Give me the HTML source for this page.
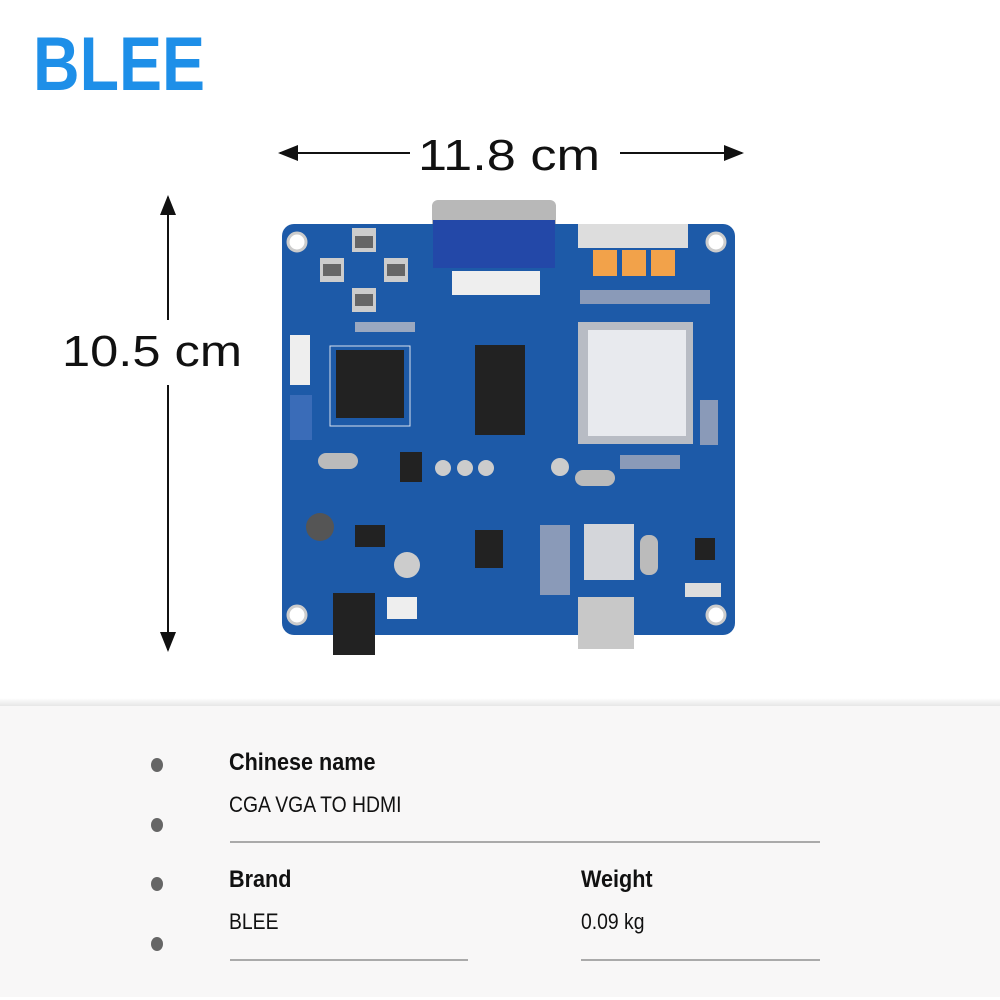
<!DOCTYPE html>
<html><head><meta charset="utf-8"><style>
body{margin:0;width:1000px;height:1000px;background:#fff;position:relative;overflow:hidden;font-family:"Liberation Sans",sans-serif}
.abs{position:absolute}
.bul{position:absolute;left:151px;width:12px;height:14px;border-radius:50%;background:#666}
.hd{position:absolute;font-weight:bold;font-size:24px;color:#111;transform:scaleX(0.9);transform-origin:left}
.vl{position:absolute;font-size:22px;color:#111;transform:scaleX(0.88);transform-origin:left}
.ln{position:absolute;height:2px;background:#aaa}
</style></head><body>
<svg class="abs" style="left:0;top:0" width="1000" height="700">
<defs><marker id="a" markerWidth="10" markerHeight="8" refX="9" refY="4" orient="auto"><path d="M0,0L10,4L0,8z" fill="#111"/></marker></defs>
<text x="33" y="90" font-family="Liberation Sans" font-weight="bold" font-size="76" fill="#1e8fe8" textLength="172" lengthAdjust="spacingAndGlyphs">BLEE</text>
<line x1="410" y1="153" x2="280" y2="153" stroke="#111" stroke-width="2" marker-end="url(#a)"/>
<line x1="620" y1="153" x2="742" y2="153" stroke="#111" stroke-width="2" marker-end="url(#a)"/>
<text x="418" y="170" font-family="Liberation Sans" font-size="44" fill="#111" textLength="182" lengthAdjust="spacingAndGlyphs">11.8 cm</text>
<line x1="168" y1="320" x2="168" y2="197" stroke="#111" stroke-width="2" marker-end="url(#a)"/>
<line x1="168" y1="385" x2="168" y2="650" stroke="#111" stroke-width="2" marker-end="url(#a)"/>
<text x="62" y="366" font-family="Liberation Sans" font-size="44" fill="#111" textLength="180" lengthAdjust="spacingAndGlyphs">10.5 cm</text>
<rect x="432" y="200" width="124" height="30" rx="6" fill="#b8b8b8"/>
<rect x="282" y="224" width="453" height="411" rx="12" fill="#1d5aa8"/>
<rect x="433" y="220" width="122" height="48" fill="#2348a8"/>
<circle cx="297" cy="242" r="9" fill="#fff" stroke="#ccc" stroke-width="3"/>
<circle cx="716" cy="242" r="9" fill="#fff" stroke="#ccc" stroke-width="3"/>
<circle cx="297" cy="615" r="9" fill="#fff" stroke="#ccc" stroke-width="3"/>
<circle cx="716" cy="615" r="9" fill="#fff" stroke="#ccc" stroke-width="3"/>
<rect x="452" y="271" width="88" height="24" fill="#eee"/>
<rect x="578" y="224" width="110" height="24" fill="#ddd"/>
<rect x="593" y="250" width="24" height="26" fill="#f2a24a"/><rect x="622" y="250" width="24" height="26" fill="#f2a24a"/><rect x="651" y="250" width="24" height="26" fill="#f2a24a"/>
<rect x="352" y="228" width="24" height="24" fill="#ccc"/><rect x="320" y="258" width="24" height="24" fill="#ccc"/><rect x="384" y="258" width="24" height="24" fill="#ccc"/><rect x="352" y="288" width="24" height="24" fill="#ccc"/>
<rect x="355" y="236" width="18" height="12" fill="#222" opacity=".6"/><rect x="323" y="264" width="18" height="12" fill="#222" opacity=".6"/><rect x="387" y="264" width="18" height="12" fill="#222" opacity=".6"/><rect x="355" y="294" width="18" height="12" fill="#222" opacity=".6"/>
<rect x="580" y="290" width="130" height="14" fill="#8a9ab8"/>
<rect x="355" y="322" width="60" height="10" fill="#9aa8c0"/>
<rect x="330" y="346" width="80" height="80" fill="none" stroke="#d8e0ee" stroke-width="1"/>
<rect x="336" y="350" width="68" height="68" fill="#222"/>
<rect x="475" y="345" width="50" height="90" fill="#222"/>
<rect x="578" y="322" width="115" height="122" fill="#b8bcc4"/>
<rect x="588" y="330" width="98" height="106" fill="#e8eaee"/>
<rect x="290" y="335" width="20" height="50" fill="#eee"/>
<rect x="290" y="395" width="22" height="45" fill="#3a6cb8"/>
<rect x="318" y="453" width="40" height="16" rx="8" fill="#bbb"/>
<rect x="575" y="470" width="40" height="16" rx="8" fill="#bbb"/>
<rect x="400" y="452" width="22" height="30" fill="#222"/>
<circle cx="443" cy="468" r="8" fill="#ccc"/><circle cx="465" cy="468" r="8" fill="#ccc"/><circle cx="486" cy="468" r="8" fill="#ccc"/>
<circle cx="560" cy="467" r="9" fill="#ccc"/>
<rect x="620" y="455" width="60" height="14" fill="#8a9ab8"/>
<rect x="700" y="400" width="18" height="45" fill="#8a9ab8"/>
<rect x="695" y="538" width="20" height="22" fill="#222"/>
<rect x="640" y="535" width="18" height="40" rx="8" fill="#bbb"/>
<circle cx="320" cy="527" r="14" fill="#555"/><circle cx="407" cy="565" r="13" fill="#ccc"/>
<rect x="355" y="525" width="30" height="22" fill="#222"/>
<rect x="540" y="525" width="30" height="70" fill="#8a9ab8"/>
<rect x="584" y="524" width="50" height="56" fill="#d4d6da"/>
<rect x="475" y="530" width="28" height="38" fill="#222"/>
<rect x="578" y="597" width="56" height="52" fill="#c8c8c8"/>
<rect x="333" y="593" width="42" height="62" fill="#222"/>
<rect x="387" y="597" width="30" height="22" fill="#eee"/>
<rect x="685" y="583" width="36" height="14" fill="#ddd"/>
</svg>
<div class="abs" style="left:0;top:698px;width:1000px;height:8px;background:linear-gradient(#fff,#e6e6e6)"></div>
<div class="abs" style="left:0;top:706px;width:1000px;height:291px;background:#f8f7f7"></div>
<div class="bul" style="top:758px"></div><div class="bul" style="top:818px"></div><div class="bul" style="top:877px"></div><div class="bul" style="top:937px"></div>
<div class="hd" style="left:229px;top:749px">Chinese name</div>
<div class="vl" style="left:229px;top:792px">CGA VGA TO HDMI</div>
<div class="ln" style="left:230px;top:841px;width:590px"></div>
<div class="hd" style="left:229px;top:866px">Brand</div>
<div class="vl" style="left:229px;top:909px">BLEE</div>
<div class="hd" style="left:581px;top:866px">Weight</div>
<div class="vl" style="left:581px;top:909px">0.09 kg</div>
<div class="ln" style="left:230px;top:959px;width:238px"></div>
<div class="ln" style="left:581px;top:959px;width:239px"></div>
</body></html>
